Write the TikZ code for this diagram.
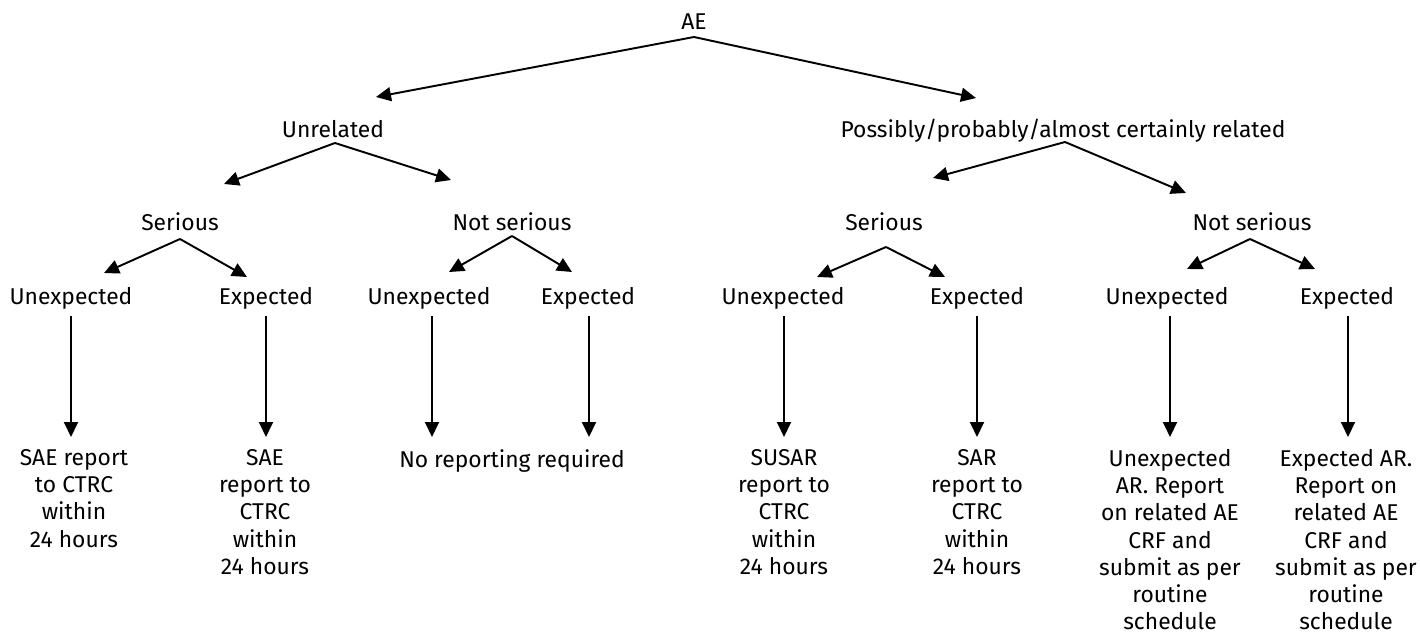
\documentclass[tikz,border=0pt]{standalone}
\usepackage{fontspec}
\setmainfont{Fira Sans}
\usetikzlibrary{arrows.meta,calc}

\tikzset{
  lbl/.style={inner sep=0pt, anchor=base},
  outcome/.style={inner sep=0pt, anchor=north, align=center},
  arr/.style={-{Triangle[length=0.3cm,width=0.28cm]}, line width=1.1pt},
}

\begin{document}
\begin{tikzpicture}[x=0.02cm, y=-0.02cm, font=\fontsize{13}{15.5}\selectfont]
      \useasboundingbox (0,0) rectangle (1420,635);
      % levels
      \node [lbl] (ae)    at (694,30)  {AE};
      \node [lbl] (unrel) at (333,137) {Unrelated};
      \node [lbl] (rel)   at (1063,137) {Possibly/probably/almost certainly related};
      \node [lbl] (serA)  at (180,230) {Serious};
      \node [lbl] (nserA) at (512,230) {Not serious};
      \node [lbl] (serB)  at (884,230) {Serious};
      \node [lbl] (nserB) at (1252,230) {Not serious};
      \node [lbl] (unA)   at (71,304)   {Unexpected};
      \node [lbl] (exA)   at (266,304)  {Expected};
      \node [lbl] (unB)   at (429,304)  {Unexpected};
      \node [lbl] (exB)   at (588,304)  {Expected};
      \node [lbl] (unC)   at (783,304)  {Unexpected};
      \node [lbl] (exC)   at (977,304)  {Expected};
      \node [lbl] (unD)   at (1167,304) {Unexpected};
      \node [lbl] (exD)   at (1347,304) {Expected};
      % outcomes
      \node [outcome] (repA) at (74,449)   {SAE report\\to CTRC\\within\\24 hours};
      \node [outcome] (repB) at (265,449)  {SAE\\report to\\CTRC\\within\\24 hours};
      \node [outcome] (none) at (512,449)  {No reporting required};
      \node [outcome] (repC) at (784,449)  {SUSAR\\report to\\CTRC\\within\\24 hours};
      \node [outcome] (repD) at (977,449)  {SAR\\report to\\CTRC\\within\\24 hours};
      \node [outcome] (repE) at (1170,449) {Unexpected\\AR. Report\\on related AE\\CRF and\\submit as per\\routine\\schedule};
      \node [outcome] (repF) at (1346,449) {Expected AR.\\Report on\\related AE\\CRF and\\submit as per\\routine\\schedule};
      % branches
      \draw [arr] ($(ae.base)+(0,7)$) -- ($(unrel.base)+(43,-40)$);
      \draw [arr] ($(ae.base)+(0,7)$) -- ($(rel.base)+(-87,-39)$);
      \draw [arr] ($(unrel.base)+(2,6)$) -- ($(serA.base)+(44,-46)$);
      \draw [arr] ($(unrel.base)+(2,6)$) -- ($(nserA.base)+(-61,-50)$);
      \draw [arr] ($(rel.base)+(2,5)$) -- ($(serB.base)+(49,-52)$);
      \draw [arr] ($(rel.base)+(2,5)$) -- ($(nserB.base)+(-66,-37)$);
      \draw [arr] ($(serA.base)+(0,9)$) -- ($(unA.base)+(33,-31)$);
      \draw [arr] ($(serA.base)+(0,9)$) -- ($(exA.base)+(-19,-27)$);
      \draw [arr] ($(nserA.base)+(0,6)$) -- ($(unB.base)+(20,-32)$);
      \draw [arr] ($(nserA.base)+(0,6)$) -- ($(exB.base)+(-16,-32)$);
      \draw [arr] ($(serB.base)+(2,17)$) -- ($(unC.base)+(34,-27)$);
      \draw [arr] ($(serB.base)+(2,17)$) -- ($(exC.base)+(-32,-27)$);
      \draw [arr] ($(nserB.base)+(-2,9)$) -- ($(unD.base)+(20,-35)$);
      \draw [arr] ($(nserB.base)+(-2,9)$) -- ($(exD.base)+(-32,-35)$);
      % down to outcomes
      \draw [arr] ($(unA.base)+(0,12)$) -- ($(unA.base |- repA.north)+(0,-12)$);
      \draw [arr] ($(exA.base)+(0,12)$) -- ($(exA.base |- repB.north)+(0,-12)$);
      \draw [arr] ($(unB.base)+(3,12)$) -- ($(unB.base |- none.north)+(3,-12)$);
      \draw [arr] ($(exB.base)+(1,12)$) -- ($(exB.base |- none.north)+(1,-12)$);
      \draw [arr] ($(unC.base)+(1,12)$) -- ($(unC.base |- repC.north)+(1,-12)$);
      \draw [arr] ($(exC.base)+(0,12)$) -- ($(exC.base |- repD.north)+(0,-12)$);
      \draw [arr] ($(unD.base)+(3,12)$) -- ($(unD.base |- repE.north)+(3,-12)$);
      \draw [arr] ($(exD.base)+(1,12)$) -- ($(exD.base |- repF.north)+(1,-12)$);
    \end{tikzpicture}
\end{document}
